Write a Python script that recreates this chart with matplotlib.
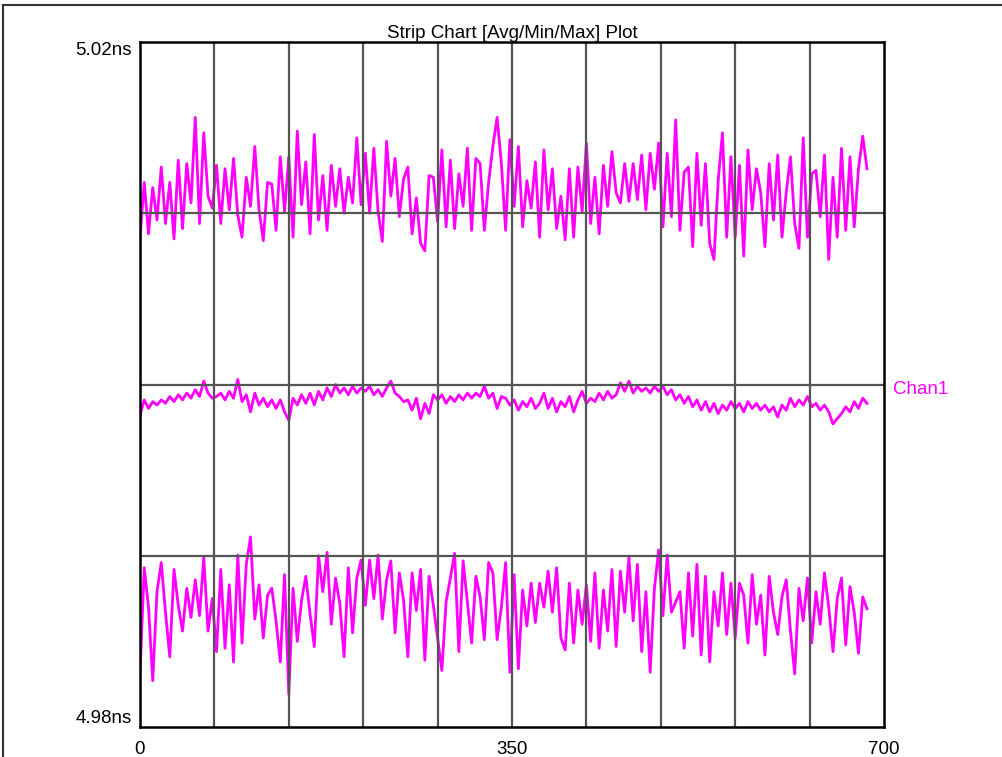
import numpy as np
import matplotlib
matplotlib.use('Agg')
import matplotlib.pyplot as plt
from matplotlib.lines import Line2D

# --- DATA (deviation from 5.000 ns, in ps; one sample every 4 points) ---
max_ps = [8.6, 11.8, 8.8, 11.5, 9.6, 12.7, 9.4, 11.8, 8.5, 13.1,
          9.1, 12.9, 10.6, 15.6, 9.4, 14.7, 11.0, 10.3, 12.8, 9.4,
          12.6, 10.2, 13.2, 9.9, 8.6, 12.1, 10.4, 13.9, 10.2, 8.4,
          11.8, 11.7, 9.0, 13.3, 10.1, 13.3, 8.6, 14.8, 10.5, 13.0,
          8.8, 14.6, 9.6, 12.2, 9.0, 12.8, 10.4, 12.6, 10.0, 12.1,
          10.6, 14.4, 10.5, 13.5, 10.0, 13.8, 10.1, 8.35, 14.2, 11.0,
          13.2, 9.8, 12.0, 12.7, 8.8, 10.9, 8.25, 7.8, 12.2, 12.1,
          9.5, 13.7, 9.2, 13.1, 9.1, 12.3, 10.4, 13.8, 9.0, 13.2,
          12.9, 9.0, 11.8, 13.9, 15.6, 12.9, 9.0, 14.3, 10.4, 13.9,
          9.2, 11.9, 10.3, 13.0, 8.6, 13.7, 10.2, 12.6, 9.1, 11.0,
          8.45, 12.6, 8.6, 12.7, 10.1, 14.1, 9.4, 12.1, 8.8, 12.8,
          10.4, 13.6, 11.2, 10.6, 12.9, 10.7, 12.9, 10.8, 13.4, 10.2,
          13.5, 11.4, 14.1, 9.2, 13.5, 9.8, 15.45, 9.0, 12.4, 12.7,
          8.05, 13.5, 9.3, 12.9, 8.25, 7.3, 11.9, 14.7, 8.6, 13.3,
          8.6, 12.8, 7.5, 13.7, 10.2, 12.6, 11.2, 8.05, 12.9, 9.6,
          13.4, 8.6, 11.2, 13.3, 9.4, 7.95, 14.4, 8.6, 12.3, 12.5,
          9.8, 13.4, 7.3, 12.1, 8.6, 13.8, 9.0, 13.3, 9.2, 12.6,
          14.5, 12.6]

avg_ps = [-1.8, -0.9, -1.4, -1.0, -1.2, -0.9, -1.1, -0.7, -1.0, -0.6,
          -0.9, -0.5, -0.8, -0.3, -0.7, 0.2, -0.5, -0.8, -0.7, -0.5,
          -0.9, -0.4, -0.8, 0.3, -1.0, -0.6, -1.6, -0.5, -1.2, -0.8,
          -1.3, -0.9, -1.4, -0.9, -1.6, -2.1, -0.8, -1.2, -0.6, -1.1,
          -0.5, -1.2, -0.4, -0.9, -0.2, -0.7, 0.0, -0.5, -0.2, -0.6,
          -0.1, -0.5, -0.2, -0.4, -0.1, -0.6, -0.3, -0.7, -0.2, 0.2,
          -0.5, -0.7, -1.0, -0.9, -1.5, -0.8, -2.0, -1.1, -1.7, -0.6,
          -0.9, -0.6, -1.1, -0.7, -1.0, -0.6, -0.9, -0.5, -0.8, -0.5,
          -0.7, -0.1, -0.8, -0.5, -1.4, -0.7, -0.8, -1.2, -0.9, -1.5,
          -1.0, -1.3, -0.8, -1.4, -1.1, -0.5, -1.4, -0.8, -1.6, -1.0,
          -1.3, -0.7, -1.6, -0.9, -0.4, -1.1, -0.8, -1.0, -0.5, -0.9,
          -0.4, -0.8, -0.6, 0.1, -0.4, 0.2, -0.5, -0.1, -0.4, -0.2,
          -0.5, -0.1, -0.4, -0.1, -0.6, -0.3, -0.9, -0.6, -1.1, -0.7,
          -1.3, -0.9, -1.5, -1.0, -1.6, -1.1, -1.7, -1.2, -1.5, -1.0,
          -1.4, -1.1, -1.6, -1.0, -1.4, -1.1, -1.5, -1.2, -1.6, -1.3,
          -1.9, -1.2, -1.5, -0.8, -1.3, -0.9, -1.2, -0.7, -1.3, -1.1,
          -1.5, -1.2, -1.6, -2.3, -2.0, -1.7, -1.3, -1.6, -1.0, -1.4,
          -0.8, -1.1]

min_ps = [-16.9, -10.7, -13.0, -17.3, -12.1, -10.4, -13.3, -15.9, -10.8, -12.9,
          -14.4, -11.9, -13.6, -11.4, -13.5, -10.1, -14.4, -12.5, -15.6, -10.8,
          -15.4, -11.7, -16.2, -9.96, -15.1, -10.5, -8.9, -13.7, -11.7, -14.8,
          -12.3, -11.9, -13.8, -16.2, -11.1, -18.1, -11.9, -15.0, -12.6, -11.2,
          -13.4, -15.3, -10.0, -12.1, -9.8, -14.0, -11.3, -12.8, -15.9, -10.7,
          -14.5, -11.3, -10.25, -12.9, -10.25, -12.5, -9.96, -13.7, -11.4, -10.3,
          -14.5, -11.0, -12.6, -15.9, -11.0, -13.2, -10.8, -16.1, -11.2, -12.9,
          -14.8, -16.7, -12.7, -11.3, -9.86, -15.6, -10.3, -12.7, -15.1, -11.2,
          -12.4, -14.9, -10.4, -11.0, -14.9, -13.0, -10.4, -16.8, -11.1, -16.6,
          -12.0, -14.1, -11.6, -13.9, -11.6, -13.0, -10.9, -13.3, -10.7, -14.8,
          -15.5, -11.6, -15.1, -12.0, -14.0, -11.7, -15.0, -11.0, -15.4, -12.0,
          -14.4, -10.8, -15.3, -10.9, -13.3, -10.1, -13.8, -10.5, -15.6, -12.1,
          -16.8, -11.9, -9.66, -13.5, -9.96, -13.3, -12.7, -12.1, -15.4, -11.0,
          -14.7, -10.5, -15.8, -11.2, -16.2, -12.1, -14.1, -11.0, -14.6, -11.6,
          -14.8, -11.6, -12.3, -15.1, -11.1, -14.0, -12.3, -15.8, -11.2, -13.3,
          -14.6, -12.4, -11.4, -14.4, -16.9, -11.9, -13.8, -11.3, -15.1, -12.1,
          -14.0, -11.0, -13.0, -15.6, -12.5, -11.3, -15.2, -11.8, -13.3, -15.7,
          -12.4, -13.1]

sample = np.arange(len(max_ps)) * 4
x_ticks = [0, 350, 700]
y_ticks = [4.98, 5.02]
y_ticklabels = ['4.98ns', '5.02ns']
x_grid = [70, 140, 210, 280, 350, 420, 490, 560, 630]
y_grid = [4.99, 5.00, 5.01]

# --- STYLE ---
MAG, GRID = '#ff00ff', '#555555'
FS = 13.5
plt.rcParams['font.family'] = ['Liberation Sans', 'DejaVu Sans']

fig = plt.figure(figsize=(10.03, 7.57), dpi=100)
ax = fig.add_axes([140/1003, 30/757, 744/1003, 685/757])

for ps in (max_ps, avg_ps, min_ps):
    ax.plot(sample, 5.0 + np.array(ps) / 1000, color=MAG, lw=2.0, zorder=2)

for gx in x_grid:
    ax.axvline(gx, color=GRID, lw=1.6, zorder=3)
for gy in y_grid:
    ax.axhline(gy, color=GRID, lw=1.6, zorder=3)

ax.set_xlim(0, 700); ax.set_ylim(4.98, 5.02)
ax.set_xticks(x_ticks); ax.set_xticklabels([str(v) for v in x_ticks])
ax.set_yticks(y_ticks); ax.set_yticklabels(y_ticklabels)
ax.tick_params(axis='x', length=0, pad=10, labelsize=FS)
ax.tick_params(axis='y', length=0, pad=6, labelsize=FS)
ax.get_yticklabels()[0].set_va('bottom')
ax.get_yticklabels()[1].set_va('top')
for s in ax.spines.values():
    s.set_color('black'); s.set_linewidth(1.8); s.set_zorder(4)

ax.set_title('Strip Chart [Avg/Min/Max] Plot', fontsize=FS, pad=3)
ax.text(1.012, 0.492, 'Chan1', color=MAG, fontsize=FS, transform=ax.transAxes,
        ha='left', va='center')

# window frame (top + left edge)
fig.add_artist(Line2D([3/1003, 1], [1 - 5/757, 1 - 5/757], color='#333333', lw=1.5))
fig.add_artist(Line2D([3/1003, 3/1003], [0, 1 - 5/757], color='#333333', lw=1.5))

fig.savefig('out.png', dpi=100)
